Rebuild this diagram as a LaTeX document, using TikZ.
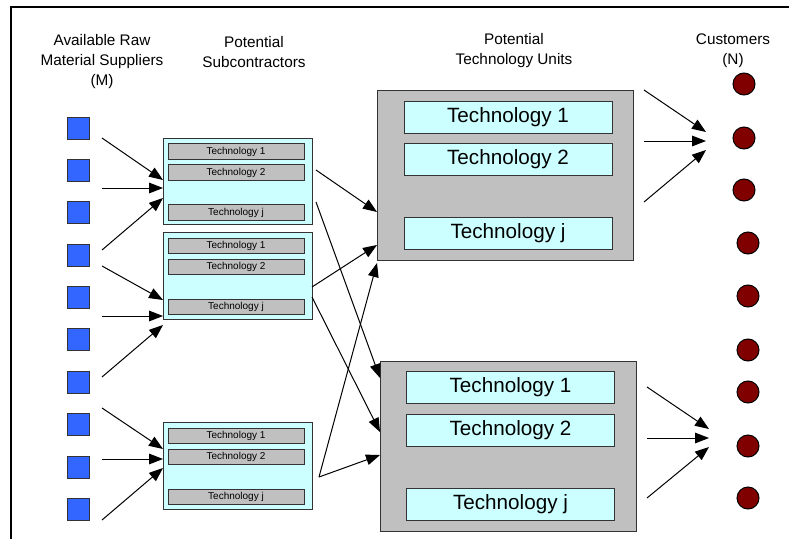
\documentclass[tikz,border=0pt]{standalone}
\usepackage{fontspec}
\setmainfont{Liberation Sans}
\usetikzlibrary{arrows.meta}
\definecolor{supblue}{HTML}{3366FF}
\definecolor{lightcyan}{HTML}{CCFFFF}
\definecolor{midgray}{HTML}{C0C0C0}
\definecolor{custred}{HTML}{800000}
\definecolor{edgegray}{HTML}{333333}
\begin{document}
\begin{tikzpicture}[x=0.75pt,y=-0.75pt,
  supplier/.style={draw=edgegray, fill=supblue, minimum size=16.5pt, inner sep=0pt, line width=0.75pt},
  subbox/.style={draw=edgegray, fill=lightcyan, minimum width=111.75pt, minimum height=64.75pt, inner sep=0pt, line width=0.75pt},
  subbar/.style={draw=edgegray, fill=midgray, minimum width=102pt, minimum height=11.5pt, inner sep=0pt, line width=0.75pt, font=\fontsize{7.5}{8}\selectfont},
  techbox/.style={draw=edgegray, fill=midgray, minimum width=192pt, minimum height=127.5pt, inner sep=0pt, line width=0.75pt},
  techbar/.style={draw=edgegray, fill=lightcyan, minimum width=156pt, minimum height=24pt, inner sep=0pt, line width=0.75pt, font=\fontsize{15.5}{18}\selectfont},
  customer/.style={circle, draw=black, fill=custred, minimum size=16.5pt, inner sep=0pt, line width=0.75pt},
  flow/.style={-{Triangle[length=10.5pt,width=8pt]}, line width=0.75pt},
  title/.style={align=center, font=\fontsize{11.5}{15}\selectfont}]
\useasboundingbox (0,0) rectangle (789,539);
\fill[white] (0,0) rectangle (789,539);
% frame
\draw[line width=1.5pt] (11,539) -- (11,7) -- (789,7);
% titles
\node[title] (t1) at (102,62) {Available Raw\\Material Suppliers\\(M)};
\node[title] (t2) at (254,52) {Potential\\Subcontractors};
\node[title] (t3) at (514,51) {Potential\\Technology Units};
\node[title] (t4) at (733,51) {Customers\\(N)};
% suppliers
\foreach \i/\y in {1/128,2/170,3/212,4/255,5/297,6/339,7/382,8/424,9/467,10/509}
  \node[supplier] (s\i) at (78,\y) {};
% subcontractors
\node[subbox] (sub1) at (237.5,181.5) {};
\node[subbox] (sub2) at (237.5,276) {};
\node[subbox] (sub3) at (237.5,466) {};
\foreach \b/\ya/\yb/\yc in {1/151.5/172.5/212.5,2/246/267/307,3/436/457/497}{
  \node[subbar] (sub\b a) at (236,\ya) {Technology 1};
  \node[subbar] (sub\b b) at (236,\yb) {Technology 2};
  \node[subbar] (sub\b c) at (236,\yc) {Technology j};
}
% technology units
\node[techbox] (ta) at (505,175) {};
\node[techbar] (ta1) at (508,117) {Technology 1};
\node[techbar] (ta2) at (508,159) {Technology 2};
\node[techbar] (ta3) at (508,233.5) {Technology j};
\node[techbox] (tb) at (508,446) {};
\node[techbar] (tb1) at (510.5,387) {Technology 1};
\node[techbar] (tb2) at (510.5,430) {Technology 2};
\node[techbar] (tb3) at (510.5,504) {Technology j};
% customers
\foreach \i/\x/\y in {1/744/84,2/744/138,3/744/190,4/748/243,5/748/296,6/748/350,7/748/392,8/748/446,9/748/498}
  \node[customer] (c\i) at (\x,\y) {};
% flows
\foreach \n/\sx/\sy/\ex/\ey in {
  1/102/138/163/180, 2/102/188/163/188, 3/102/250/163/198,
  4/102/266/163/300, 5/102/316/163/316, 6/102/377/163/325,
  7/102/408/163/449, 8/102/459/163/459, 9/102/520/163/468,
  10/316/170/377/212, 11/316/202/380/378,
  12/312/287/377/245, 13/312/297/380/432,
  14/319/477/377/263, 15/319/477/380/455,
  16/644/90/706/132, 17/644/141/706/141, 18/644/202/706/150,
  19/647/387/709/429, 20/647/438/709/438, 21/647/498/709/447}{
  \coordinate (f\n s) at (\sx,\sy);
  \coordinate (f\n e) at (\ex,\ey);
  \draw[flow] (f\n s) -- (f\n e);
}
\end{tikzpicture}
\end{document}
